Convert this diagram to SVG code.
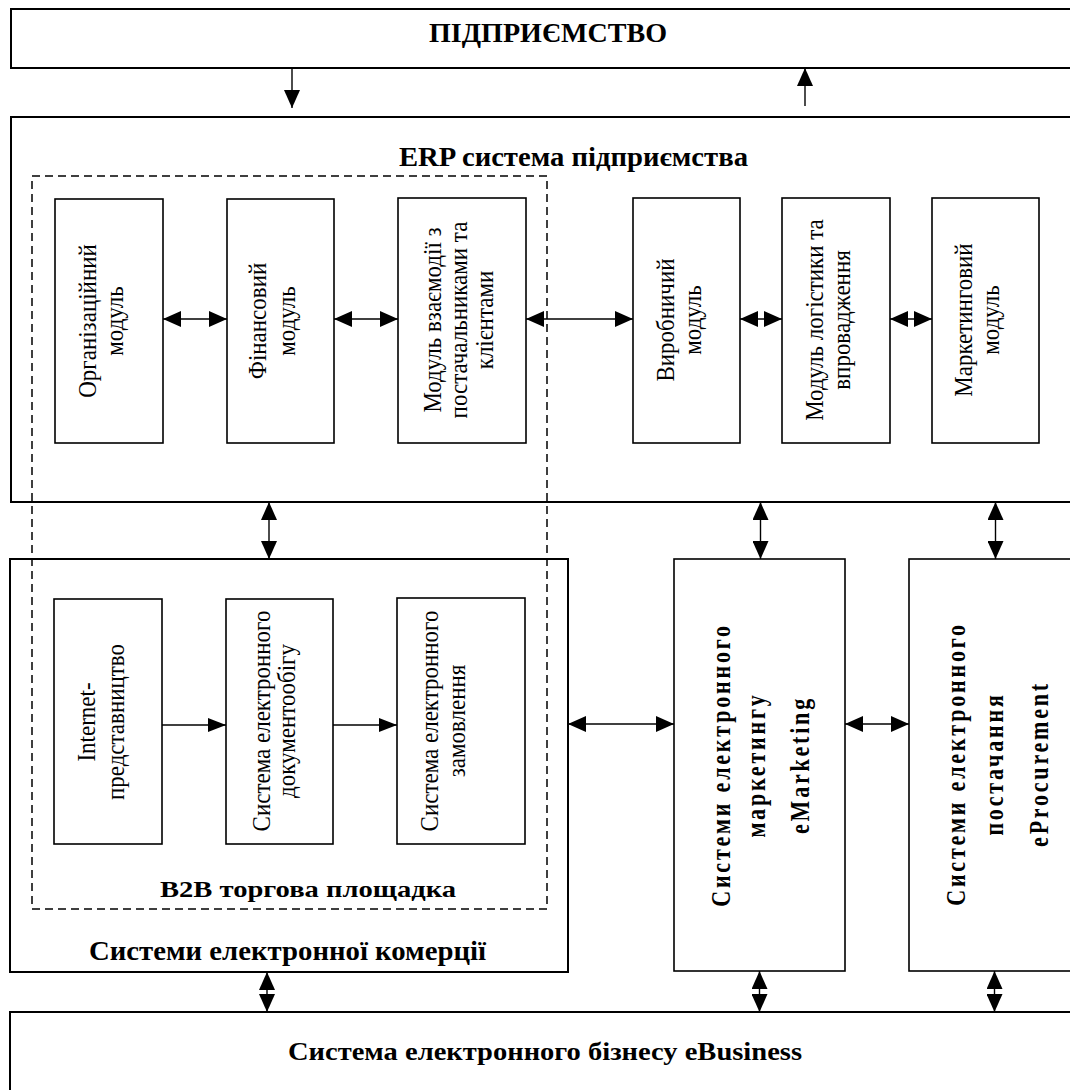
<svg xmlns="http://www.w3.org/2000/svg" width="1070" height="1090" viewBox="0 0 1070 1090">
<defs>
<marker id="ah" markerUnits="userSpaceOnUse" markerWidth="19" markerHeight="16" refX="18" refY="8" orient="auto-start-reverse">
<path d="M0,0 L18,8 L0,16 Z" fill="#000"/>
</marker>
<marker id="ahs" markerUnits="userSpaceOnUse" markerWidth="19" markerHeight="14" refX="18" refY="7" orient="auto-start-reverse">
<path d="M0,0 L18,7 L0,14 Z" fill="#000"/>
</marker>
</defs>
<style>
.big{fill:#fff;stroke:#000;stroke-width:2}
.box{fill:#fff;stroke:#000;stroke-width:1.6}
.dash{fill:none;stroke:#000;stroke-width:1.5;stroke-dasharray:8 5}
.t{font-family:"Liberation Serif","Times New Roman",serif;fill:#000}
.b{font-weight:bold}
.r{font-size:23px;text-anchor:middle}
.rb{font-size:22px;font-weight:bold;text-anchor:middle;letter-spacing:2.8px}
.c{stroke:#000;stroke-width:1.4;fill:none}
.d{marker-start:url(#ah);marker-end:url(#ah)}
.e{marker-end:url(#ah)}
.s{marker-end:url(#ahs)}
</style>
<rect width="1070" height="1090" fill="#fff"/>

<g id="enterprise">
<rect class="big" x="11" y="9" width="1075" height="59"/>
<text class="t b" x="429" y="42" font-size="27" textLength="238" lengthAdjust="spacingAndGlyphs">ПІДПРИЄМСТВО</text>
</g>

<g id="erp">
<rect class="big" x="11" y="117" width="1075" height="385"/>
<text class="t b" x="399" y="166" font-size="27" textLength="349" lengthAdjust="spacingAndGlyphs">ERP система підприємства</text>
</g>

<g id="commerce">
<rect class="big" x="10" y="559" width="558" height="413"/>
<text class="t b" x="89" y="960" font-size="28" textLength="397" lengthAdjust="spacingAndGlyphs">Системи електронної комерції</text>
</g>

<g id="b2b">
<rect class="dash" x="32" y="176" width="515" height="733"/>
<text class="t b" x="160" y="897" font-size="24" textLength="296" lengthAdjust="spacingAndGlyphs">B2B торгова площадка</text>
</g>

<g id="org-module">
<rect class="box" x="55" y="199" width="108" height="244"/>
<text class="t r" transform="translate(96,321) rotate(-90) scale(1,1.1)"><tspan x="0" y="0">Організаційний</tspan><tspan x="0" y="24.5">модуль</tspan></text>
</g>

<g id="fin-module">
<rect class="box" x="227" y="199" width="107" height="244"/>
<text class="t r" transform="translate(266,321) rotate(-90) scale(1,1.1)"><tspan x="0" y="0">Фінансовий</tspan><tspan x="0" y="26.4">модуль</tspan></text>
</g>

<g id="srm-module">
<rect class="box" x="398" y="198" width="128" height="245"/>
<text class="t r" transform="translate(441,320) rotate(-90) scale(1,1.1)"><tspan x="0" y="0">Модуль взаємодії з</tspan><tspan x="0" y="23.6">постачальниками та</tspan><tspan x="0" y="47.3">клієнтами</tspan></text>
</g>

<g id="prod-module">
<rect class="box" x="633" y="198" width="107" height="245"/>
<text class="t r" transform="translate(674,320) rotate(-90) scale(1,1.1)"><tspan x="0" y="0">Виробничий</tspan><tspan x="0" y="24.5">модуль</tspan></text>
</g>

<g id="log-module">
<rect class="box" x="782" y="198" width="108" height="245"/>
<text class="t r" transform="translate(823,320) rotate(-90) scale(1,1.1)"><tspan x="0" y="0">Модуль логістики та</tspan><tspan x="0" y="24.5">впровадження</tspan></text>
</g>

<g id="mkt-module">
<rect class="box" x="932" y="198" width="107" height="245"/>
<text class="t r" transform="translate(972,320) rotate(-90) scale(1,1.1)"><tspan x="0" y="0">Маркетинговий</tspan><tspan x="0" y="24.5">модуль</tspan></text>
</g>

<g id="internet">
<rect class="box" x="54" y="599" width="108" height="245"/>
<text class="t r" transform="translate(95,722) rotate(-90) scale(1,1.1)"><tspan x="0" y="0">Internet-</tspan><tspan x="0" y="26.4">представництво</tspan></text>
</g>

<g id="edoc">
<rect class="box" x="226" y="599" width="107" height="245"/>
<text class="t r" transform="translate(270,721) rotate(-90) scale(1,1.1)"><tspan x="0" y="0">Система електронного</tspan><tspan x="0" y="22.7">документообігу</tspan></text>
</g>

<g id="eorder">
<rect class="box" x="397" y="598" width="128" height="246"/>
<text class="t r" transform="translate(438,721) rotate(-90) scale(1,1.1)"><tspan x="0" y="0">Система електронного</tspan><tspan x="0" y="24.5">замовлення</tspan></text>
</g>

<g id="emarketing">
<rect class="box" x="674" y="559" width="171" height="412"/>
<text class="t rb" transform="translate(730,765) rotate(-90) scale(1,1.2)"><tspan x="0" y="0">Системи електронного</tspan><tspan x="0" y="29">маркетингу</tspan><tspan x="0" y="66">eMarketing</tspan></text>
</g>

<g id="eprocurement">
<rect class="box" x="909" y="559" width="175" height="412"/>
<text class="t rb" transform="translate(965,764) rotate(-90) scale(1,1.2)"><tspan x="0" y="0">Системи електронного</tspan><tspan x="0" y="31.5">постачання</tspan><tspan x="0" y="69">eProcurement</tspan></text>
</g>

<g id="ebusiness">
<rect class="big" x="10" y="1012" width="1076" height="90"/>
<text class="t b" x="288" y="1060" font-size="26" textLength="514" lengthAdjust="spacingAndGlyphs">Система електронного бізнесу eBusiness</text>
</g>

<g id="connectors">
<line class="c e" x1="292" y1="68" x2="292" y2="108"/>
<line class="c e" x1="805" y1="106" x2="805" y2="68"/>
<line class="c d" x1="163" y1="319" x2="227" y2="319"/>
<line class="c d" x1="334" y1="319" x2="398" y2="319"/>
<line class="c d" x1="526" y1="319" x2="633" y2="319"/>
<line class="c d" x1="740" y1="319" x2="782" y2="319"/>
<line class="c d" x1="890" y1="319" x2="932" y2="319"/>
<line class="c d" x1="269" y1="502" x2="269" y2="559"/>
<line class="c d" x1="760.5" y1="502" x2="760.5" y2="559"/>
<line class="c d" x1="995.5" y1="502" x2="995.5" y2="559"/>
<line class="c s" x1="162" y1="725" x2="226" y2="725"/>
<line class="c s" x1="333" y1="725" x2="397" y2="725"/>
<line class="c d" x1="568" y1="724" x2="674" y2="724"/>
<line class="c d" x1="845" y1="724" x2="909" y2="724"/>
<line class="c d" x1="267" y1="972" x2="267" y2="1012"/>
<line class="c d" x1="759.5" y1="971" x2="759.5" y2="1012"/>
<line class="c d" x1="994.5" y1="971" x2="994.5" y2="1012"/>
</g>
</svg>
